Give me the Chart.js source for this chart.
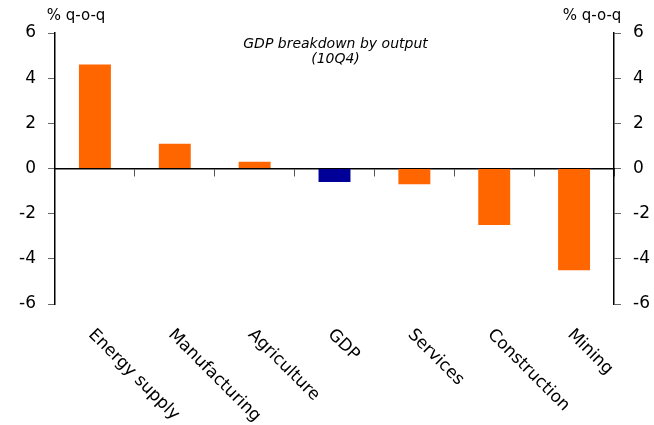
<!DOCTYPE html>
<html>
<head>
<meta charset="utf-8">
<script src="https://cdn.jsdelivr.net/npm/chart.js@4.4.0/dist/chart.umd.min.js"></script>
<style>
  html, body { margin: 0; padding: 0; background: #fff; }
  #wrap { width: 654px; height: 425px; }
</style>
</head>
<body>
<div id="wrap"><canvas id="barChart"></canvas></div>
<script>
const categories = ['Energy supply', 'Manufacturing', 'Agriculture', 'GDP', 'Services', 'Construction', 'Mining'];
const values = [4.6, 1.1, 0.3, -0.6, -0.7, -2.5, -4.5];
const barColors = categories.map(c => c === 'GDP' ? '#000099' : '#ff6600'); // GDP in navy
const yMin = -6, yMax = 6, yStep = 2;
const titleLines = ['GDP breakdown by output', '(10Q4)'];
const unitLabel = '% q-o-q';

const FONT = '"DejaVu Sans", Verdana, sans-serif';

// rotated category labels, title and unit labels
const extraText = {
  id: 'extraText',
  afterDraw(chart) {
    const { ctx, chartArea, scales } = chart;
    ctx.save();
    ctx.fillStyle = '#000';
    ctx.font = '17px ' + FONT;
    ctx.textAlign = 'left';
    ctx.textBaseline = 'top';
    categories.forEach((c, i) => {
      const px = scales.x.getPixelForValue(i);
      ctx.save();
      ctx.translate(px + 2, chartArea.bottom + 22);
      ctx.rotate(Math.PI / 4);
      ctx.fillText(c, 0, 0);
      ctx.restore();
    });

    ctx.textAlign = 'center';
    ctx.textBaseline = 'middle';
    ctx.font = 'italic 14px ' + FONT;
    const cx = (chartArea.left + chartArea.right) / 2 + 1;
    titleLines.forEach((t, i) => ctx.fillText(t, cx, 44 + i * 15));

    ctx.font = '15px ' + FONT;
    ctx.fillText(unitLabel, 76, 16);
    ctx.fillText(unitLabel, 592, 16);
    ctx.restore();
  }
};

const yAxis = (pos, w) => ({
  type: 'linear',
  position: pos,
  min: yMin,
  max: yMax,
  grid: { display: true, drawOnChartArea: false, drawTicks: true, tickLength: 7, color: '#666' },
  border: { display: true, color: '#000', width: 1.5 },
  ticks: { stepSize: yStep, color: '#000', padding: 12, font: { size: 17, family: FONT } },
  afterFit: s => { s.width = w; s.paddingTop = 0; s.paddingBottom = 0; }
});

new Chart(document.getElementById('barChart'), {
  type: 'bar',
  data: {
    labels: categories,
    datasets: [{
      data: values,
      backgroundColor: barColors,
      borderWidth: 0,
      barPercentage: 0.4,
      categoryPercentage: 1
    }]
  },
  options: {
    responsive: true,
    maintainAspectRatio: false,
    animation: false,
    layout: { padding: { top: 33, bottom: 121, left: 0, right: 0 } },
    plugins: { legend: { display: false }, tooltip: { enabled: false } },
    scales: {
      x: {
        position: { y: 0 },
        offset: true,
        grid: { display: true, drawOnChartArea: false, offset: true, tickLength: 7, color: '#555' },
        border: { display: true, color: '#000', width: 1.5 },
        ticks: { display: false },
        afterFit: s => { s.height = 0; s.paddingLeft = 0; s.paddingRight = 0; }
      },
      y: yAxis('left', 55),
      y2: yAxis('right', 40)
    }
  },
  plugins: [extraText]
});
</script>
</body>
</html>
